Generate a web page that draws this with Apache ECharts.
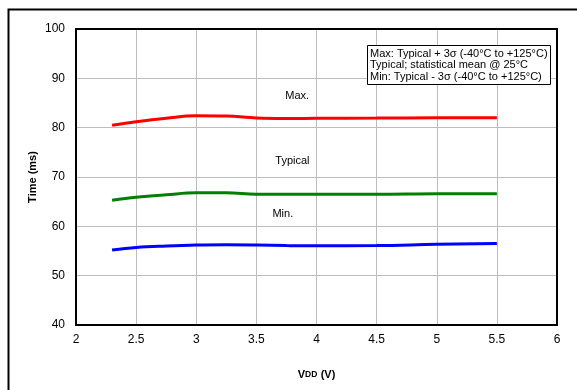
<!DOCTYPE html>
<html>
<head>
<meta charset="utf-8">
<script src="https://cdn.jsdelivr.net/npm/echarts@6/dist/echarts.min.js"></script>
<style>html,body{margin:0;padding:0;background:#fff;}#c{width:577px;height:390px;}</style>
</head>
<body>
<div id="c"></div>
<script>
const voltages = [2.3, 2.5, 2.75, 3.0, 3.25, 3.5, 3.75, 4.0, 4.5, 5.0, 5.5];
const maxValues = [80.5, 81.2, 81.9, 82.4, 82.35, 81.95, 81.85, 81.9, 81.95, 82.0, 82.0];
const typicalValues = [65.3, 65.9, 66.4, 66.8, 66.8, 66.5, 66.5, 66.5, 66.5, 66.6, 66.6];
const minValues = [55.2, 55.7, 56.0, 56.2, 56.25, 56.2, 56.1, 56.05, 56.1, 56.35, 56.5];
const seriesNames = ['Max.', 'Typical', 'Min.'];
const seriesColors = ['#ff0000', '#008000', '#0000ff'];
const labelPositions = [[3.84, 86.4], [3.80, 73.2], [3.72, 62.5]];
const legendLines = ['Max: Typical + 3σ (-40°C to +125°C)', 'Typical; statistical mean @ 25°C', 'Min: Typical - 3σ (-40°C to +125°C)'];

const font = '"Liberation Sans", Arial, sans-serif';
const allValues = [maxValues, typicalValues, minValues];

const chart = echarts.init(document.getElementById('c'), null, {renderer: 'canvas'});
chart.setOption({
  animation: false,
  backgroundColor: '#fff',
  textStyle: {fontFamily: font},
  title: {
    text: legendLines.join('\n'),
    left: 367, top: 45,
    padding: [3, 3, 2, 3],
    backgroundColor: '#fff',
    borderColor: '#000',
    borderWidth: 1,
    textStyle: {fontFamily: font, fontSize: 11, fontWeight: 'normal', color: '#000', lineHeight: 11.5}
  },
  graphic: [{
    type: 'rect', left: 6, top: 7, silent: true,
    shape: {width: 640, height: 460},
    style: {fill: 'none', stroke: '#000', lineWidth: 2}, z: 100
  }],
  grid: {left: 76, right: 20, top: 29, bottom: 65},
  xAxis: {
    type: 'value', min: 2, max: 6, interval: 0.5,
    name: '{v|V}{d|DD} {v|(V)}',
    nameLocation: 'middle', nameGap: 44,
    nameTextStyle: {rich: {
      v: {fontFamily: font, fontSize: 11, fontWeight: 'bold', color: '#000'},
      d: {fontFamily: font, fontSize: 8.5, fontWeight: 'bold', color: '#000'}
    }},
    axisLine: {show: false},
    axisTick: {show: false},
    axisLabel: {color: '#000', fontSize: 12, margin: 9, fontFamily: font},
    splitLine: {show: true, lineStyle: {color: '#bdbdbd', width: 1}}
  },
  yAxis: {
    type: 'value', min: 40, max: 100, interval: 10,
    name: 'Time (ms)', nameLocation: 'middle', nameGap: 38, nameMoveOverlap: false,
    nameTextStyle: {fontFamily: font, fontSize: 11, fontWeight: 'bold', color: '#000'},
    axisLine: {show: false},
    axisTick: {show: false},
    axisLabel: {color: '#000', fontSize: 12, margin: 11, fontFamily: font},
    splitLine: {show: true, lineStyle: {color: '#bdbdbd', width: 1}}
  },
  series: allValues.map((vals, i) => ({
    type: 'line',
    name: seriesNames[i],
    data: voltages.map((v, j) => [v, vals[j]]),
    smooth: 0.4,
    showSymbol: false,
    lineStyle: {color: seriesColors[i], width: 3},
    itemStyle: {color: seriesColors[i]},
    markPoint: {
      symbol: 'circle', symbolSize: 0,
      label: {show: true, position: 'inside', formatter: seriesNames[i], color: '#000', fontSize: 11, fontFamily: font},
      data: [{coord: labelPositions[i]}]
    }
  })).concat([{
    type: 'line', data: [], markArea: {silent: true, itemStyle: {color: 'none', borderColor: '#000', borderWidth: 2}, data: [[{coord: [2, 40]}, {coord: [6, 100]}]]}
  }])
});
</script>
</body>
</html>
